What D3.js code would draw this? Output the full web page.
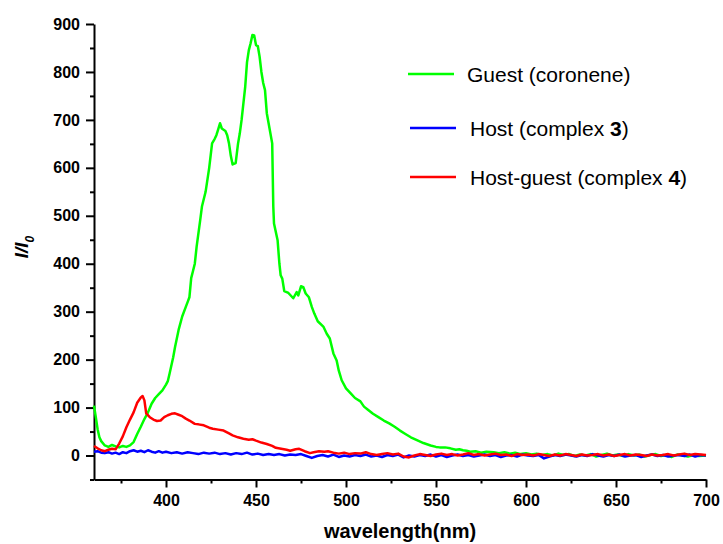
<!DOCTYPE html>
<html>
<head>
<meta charset="utf-8">
<script src="https://cdn.jsdelivr.net/npm/d3@7"></script>
<style>
  body { margin: 0; background: #fff; }
  text { font-family: Arial, "Liberation Sans", sans-serif; }
  .tick text { font-weight: bold; font-size: 16px; fill: #000; }
  .tick line { stroke: #000; stroke-width: 2; }
  .domain { stroke: #000; stroke-width: 2; }
</style>
</head>
<body>
<div id="plot"></div>
<script>
var width = 723;
var height = 544;

// Guest (coronene)
var guestX = [360, 361, 362, 363, 364, 366, 368, 370, 372, 374, 376, 378, 380, 382, 384, 386, 388, 390, 392, 394, 396, 398,
    400, 401, 402, 404, 405, 407, 409, 411, 412, 413, 414, 415, 416, 417, 419, 420, 422, 424, 425.6, 427, 428, 429, 430, 431,
    433, 434, 435, 436, 437, 438.7, 440, 441, 442, 444, 445, 446, 447, 448, 449, 450, 451, 452, 453, 454, 455, 456, 457, 459,
    459.6, 460, 462, 463, 463.7, 464.6, 465.7, 468, 470.7, 472.6, 473.5, 475, 476.3, 477.6, 479.4, 481, 482.4, 484.3, 487.4,
    489.3, 491, 493, 494.8, 496, 497.6, 500, 503, 505, 508, 510, 512, 515, 518, 521, 524, 527, 530, 533, 536, 540, 543, 547,
    550, 552, 555, 558, 561, 563, 565, 567, 569, 572, 575, 578, 582, 585, 588, 591, 594, 597, 600, 603, 606, 609, 612, 615,
    618, 621, 624, 627, 630, 633, 636, 639, 642, 645, 648, 651, 654, 657, 660, 663, 666, 669, 672, 675, 678, 681, 684, 687,
    690, 693, 696, 700];
var guestY = [104, 80, 55, 38, 30, 21, 18, 22, 19, 17, 20, 18, 21, 28, 45, 60, 76, 90, 108, 120, 128, 136,
    148, 155, 171, 205, 226, 262, 290, 310, 320, 330, 370, 385, 400, 435, 491, 520, 550, 600, 651, 660, 668, 680, 693, 682,
    677, 668, 651, 625, 607, 610, 650, 672, 700, 769, 820, 845, 860, 877, 876, 856, 854, 832, 800, 777, 762, 714, 693, 651,
    520, 484, 449, 400, 376, 369, 343, 339, 328, 341, 334, 353, 351, 338, 330, 310, 296, 280, 269,
    254, 244, 213, 198, 177, 157, 140, 128, 120, 113, 102, 96, 87, 80, 73, 67, 60, 52, 45, 38, 31, 26, 21,
    18, 17, 17, 15, 12, 13, 11, 10, 8, 9, 6, 8, 7, 5, 7, 4, 6, 3, 5, 2, 4, 1, 3, 0,
    4, 1, 3, -1, 2, 0, 3, -2, 1, 4, 0, 2, -1, 3, 0, 2, -2, 1, 3, -1, 1, -3, 2, 0,
    -2, 1, -1, 0];

// Host (complex 3)
var hostX = [360, 362, 364, 366, 368, 370, 372, 374, 376, 378, 380, 382, 384, 386, 388, 390, 392, 394, 396, 398, 400,
    403, 406, 409, 412, 415, 418, 421, 424, 427, 430, 433, 436, 439, 442, 445, 448, 451, 454, 457, 460, 463, 466, 469,
    472, 475, 478, 481, 484, 487, 490, 493, 496, 499, 502, 505, 508, 511, 514, 517, 520, 523, 526, 529, 532, 535, 538,
    541, 544, 547, 550, 553, 556, 559, 562, 565, 568, 571, 574, 577, 580, 583, 586, 589, 592, 595, 598, 601, 604, 607,
    610, 613, 616, 619, 622, 625, 628, 631, 634, 637, 640, 643, 646, 649, 652, 655, 658, 661, 664, 667, 670, 673, 676,
    679, 682, 685, 688, 691, 694, 697, 700];
var hostY = [8, 9, 6, 5, 7, 4, 6, 3, 7, 5, 9, 11, 8, 10, 7, 11, 8, 6, 9, 6, 8,
    5, 7, 4, 7, 5, 3, 6, 4, 6, 3, 5, 2, 5, 3, 6, 2, 4, 1, 3, 1, 3, 0, 2,
    1, 3, -1, -5, -1, 1, -2, 2, -3, 0, -2, 1, -1, 2, -2, 0, -3, 1, -1, 2, -4, 0, -2,
    1, -1, 2, -2, 1, -3, 0, 2, -1, 1, -2, 0, 2, -1, 1, -3, 0, 1, -2, 2, 0, -1, 1,
    -6, -2, 1, -1, 2, 0, -2, 1, -1, 3, 0, -2, 1, -1, 2, -2, 0, 1, -3, 0, 2, -1, 1,
    -2, 0, 1, -1, 2, -2, 1, 0];

// Host-guest (complex 4)
var hgX = [360, 362, 364, 366, 368, 370, 372, 374, 376, 378, 380, 382, 384, 386, 387, 388, 389, 391, 393, 395, 397,
    399, 401, 403, 405, 407, 409, 411, 413, 416, 418, 421, 424, 426, 429, 432, 435, 437, 440, 443, 446, 448, 450, 453,
    456, 459, 461, 464, 467, 469, 472, 474, 477, 480, 482, 485, 488, 490, 493, 496, 499, 502, 505, 508, 511, 514, 517,
    520, 523, 526, 529, 532, 535, 538, 541, 544, 547, 550, 553, 556, 559, 562, 565, 568, 571, 574, 577, 580, 583, 586,
    589, 592, 595, 598, 601, 604, 607, 610, 613, 616, 619, 622, 625, 628, 631, 634, 637, 640, 643, 646, 649, 652, 655,
    658, 661, 664, 667, 670, 673, 676, 679, 682, 685, 688, 691, 694, 697, 700];
var hgY = [20, 15, 11, 9, 12, 14, 13, 25, 40, 59, 75, 90, 110, 121, 124, 115, 88, 80, 75, 72, 73,
    80, 84, 87, 88, 85, 82, 77, 73, 66, 65, 63, 58, 56, 54, 52, 46, 42, 38, 35, 33, 34, 31, 27,
    24, 20, 16, 14, 12, 10, 13, 14, 9, 5, 7, 9, 8, 9, 6, 4, 6, 3, 5, 4, 7, 3, 1,
    3, 5, 2, 4, -2, -4, 0, 3, 1, -1, 2, 4, 1, 3, 0, 2, 5, 1, 3, 0, 2, 4, 1,
    2, -1, 3, 1, 2, 0, 3, 1, -1, 2, 0, 3, 1, -1, 2, 0, 1, 3, 0, 2, -1, 1, 3,
    0, 2, 1, -1, 2, 0, 1, 3, 0, 2, 4, 1, 3, 2, 1];

var xTicks = [400, 450, 500, 550, 600, 650, 700];
var xMinorTicks = [375, 425, 475, 525, 575, 625, 675];
var yTicks = [0, 100, 200, 300, 400, 500, 600, 700, 800, 900];
var yMinorTicks = [-50, 50, 150, 250, 350, 450, 550, 650, 750, 850];

var seriesNames = ["Guest (coronene)", "Host (complex 3)", "Host-guest (complex 4)"];
var seriesColors = ["#00ff00", "#0000ff", "#ff0000"];
// legend text pieces: [normal, bold, normal]
var legendParts = [["Guest (coronene)", "", ""], ["Host (complex ", "3", ")"], ["Host-guest (complex ", "4", ")"]];

var svg = d3.select("#plot").append("svg")
    .attr("width", width)
    .attr("height", height);

var scaleX = d3.scaleLinear().domain([360, 700]).range([94, 706]);
var scaleY = d3.scaleLinear().domain([-50, 900]).range([479.5, 24]);

// Axes
svg.append("g")
    .attr("transform", "translate(0," + scaleY(-50) + ")")
    .call(d3.axisBottom(scaleX).tickValues(xMinorTicks).tickSize(4).tickFormat(""))
    .select(".domain").remove();
svg.append("g")
    .attr("transform", "translate(" + scaleX(360) + ",0)")
    .call(d3.axisLeft(scaleY).tickValues(yMinorTicks).tickSize(4).tickFormat(""))
    .select(".domain").remove();

svg.append("g")
    .attr("transform", "translate(0," + scaleY(-50) + ")")
    .call(d3.axisBottom(scaleX).tickValues(xTicks).tickSize(8).tickSizeOuter(0).tickPadding(7));
svg.append("g")
    .attr("transform", "translate(" + scaleX(360) + ",0)")
    .call(d3.axisLeft(scaleY).tickValues(yTicks).tickSize(8).tickSizeOuter(0).tickPadding(6));

// Lines
var line = d3.line()
    .x(function (d) { return scaleX(d[0]); })
    .y(function (d) { return scaleY(d[1]); });

var series = [d3.zip(guestX, guestY), d3.zip(hostX, hostY), d3.zip(hgX, hgY)];

svg.append("g").selectAll("path.series")
    .data(series)
    .enter().append("path")
    .attr("class", "series")
    .attr("d", line)
    .attr("fill", "none")
    .attr("stroke", function (d, i) { return seriesColors[i]; })
    .attr("stroke-width", 2.5)
    .attr("stroke-linejoin", "round");

// Axis titles
svg.append("text")
    .attr("x", (scaleX(360) + scaleX(700)) / 2)
    .attr("y", 538)
    .attr("text-anchor", "middle")
    .style("font-size", "20px")
    .style("font-weight", "bold")
    .text("wavelength(nm)");

var yTitle = svg.append("text")
    .attr("transform", "translate(28,247) rotate(-90)")
    .attr("text-anchor", "middle")
    .style("font-size", "19px")
    .style("font-weight", "bold")
    .style("font-style", "italic");
yTitle.append("tspan").text("I/I");
yTitle.append("tspan").attr("dy", 6).style("font-size", "12px").text("0");

// Legend
var legendY = [74, 128, 177];
var legend = svg.append("g").selectAll("g.legend")
    .data(seriesNames)
    .enter().append("g")
    .attr("class", "legend")
    .attr("transform", function (d, i) { return "translate(0," + legendY[i] + ")"; });

legend.append("line")
    .attr("x1", function (d, i) { return i == 0 ? 408 : 410; })
    .attr("x2", function (d, i) { return i == 0 ? 454 : 456; })
    .attr("stroke", function (d, i) { return seriesColors[i]; })
    .attr("stroke-width", 2.5);

var legendText = legend.append("text")
    .attr("x", function (d, i) { return i == 0 ? 467 : 470; })
    .attr("y", 7.5)
    .style("font-size", "21px");
legendText.append("tspan").text(function (d, i) { return legendParts[i][0]; });
legendText.append("tspan").style("font-weight", "bold").text(function (d, i) { return legendParts[i][1]; });
legendText.append("tspan").text(function (d, i) { return legendParts[i][2]; });
</script>
</body>
</html>
